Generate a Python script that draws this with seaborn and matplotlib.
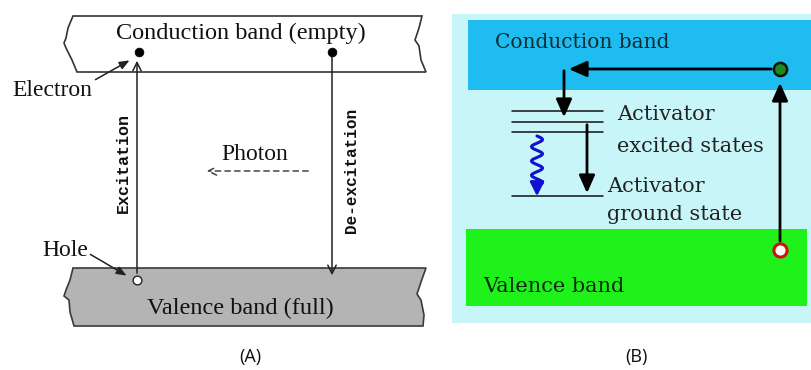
import numpy as np
import pandas as pd
import matplotlib
matplotlib.use("Agg")
import matplotlib.pyplot as plt
from matplotlib.patches import Polygon, Rectangle
import seaborn as sns

sns.set_theme(style="white")

# ---------------- data ----------------
panel_labels = ["(A)", "(B)"]
panel_label_x = [250, 636]

# Panel A
bandA_labels = ["Conduction band (empty)", "Valence band (full)"]
electron_x = [139, 332]
electron_y = [52, 52]
hole_x = [137]
hole_y = [280]
transition_labels = ["Excitation", "De-excitation"]

# Panel B
bandB_labels = ["Conduction band", "Valence band"]
excited_levels_y = [111, 122, 132]
ground_level_y = [196]
activator_texts = ["Activator", "excited states", "Activator", "ground state"]

# ---------------- figure ----------------
fig = plt.figure(figsize=(8.12, 3.70), dpi=100)
ax = fig.add_axes([0, 0, 1, 1])
ax.set_xlim(0, 812)
ax.set_ylim(370, 0)
ax.axis("off")

serif = "Liberation Serif"
mono = "Liberation Mono"
bserif = "DejaVu Serif"

# ---- Panel A bands ----
cond = [(73, 16), (422, 16), (419, 28), (415, 40), (419, 46), (421, 60), (426, 72),
        (77, 72), (72, 60), (66, 48), (64, 43), (66, 38), (68, 28)]
ax.add_patch(Polygon(cond, closed=True, facecolor="white", edgecolor="#333333", lw=1.2))
val = [(73, 268), (426, 268), (421, 282), (417, 294), (421, 300), (424, 315), (423, 326),
       (74, 326), (70, 312), (69, 300), (64, 296), (66, 290), (70, 280)]
ax.add_patch(Polygon(val, closed=True, facecolor="#b4b4b4", edgecolor="#3a3a3a", lw=1.2))

ax.text(241, 33, bandA_labels[0], ha="center", va="center", fontsize=17.5, family=serif, color="#111111")
ax.text(240, 308, bandA_labels[1], ha="center", va="center", fontsize=17.5, family=serif, color="#111111")

# transitions
ax.annotate("", xy=(137, 58), xytext=(137, 276),
            arrowprops=dict(arrowstyle="->,head_length=0.5,head_width=0.25", color="#222222", lw=1.1))
ax.annotate("", xy=(332, 278), xytext=(332, 52),
            arrowprops=dict(arrowstyle="->,head_length=0.5,head_width=0.25", color="#222222", lw=1.1))

sns.scatterplot(x=electron_x, y=electron_y, ax=ax, color="black", s=40, edgecolor="black", legend=False, zorder=5)
sns.scatterplot(x=hole_x, y=hole_y, ax=ax, color="white", s=40, edgecolor="#222222", linewidth=1, legend=False, zorder=5)

ax.text(123, 163, transition_labels[0], rotation=90, ha="center", va="center", fontsize=12,
        family=mono, fontweight="bold", color="#111111")
ax.text(352, 170, transition_labels[1], rotation=90, ha="center", va="center", fontsize=11.5,
        family=mono, fontweight="bold", color="#111111")

ax.text(255, 155, "Photon", ha="center", va="center", fontsize=17, family=serif, color="#111111")
ax.annotate("", xy=(204, 171), xytext=(311, 171),
            arrowprops=dict(arrowstyle="->,head_length=0.5,head_width=0.25", color="#333333", lw=1.0, ls=(0, (4, 3))))

ax.text(52, 90, "Electron", ha="center", va="center", fontsize=17, family=serif, color="#111111")
ax.annotate("", xy=(132, 59), xytext=(93, 81),
            arrowprops=dict(arrowstyle="-|>,head_length=0.5,head_width=0.2", color="#222222", lw=1.1))
ax.text(65, 250, "Hole", ha="center", va="center", fontsize=17, family=serif, color="#111111")
ax.annotate("", xy=(129, 277), xytext=(88, 253),
            arrowprops=dict(arrowstyle="-|>,head_length=0.5,head_width=0.2", color="#222222", lw=1.1))

# ---- Panel B ----
ax.add_patch(Rectangle((452, 14), 360, 309, facecolor="#c8f5f7", edgecolor="none"))
ax.add_patch(Rectangle((468, 20), 344, 70, facecolor="#1fbcf0", edgecolor="none"))
ax.add_patch(Rectangle((466, 229), 341, 77, facecolor="#1ff21a", edgecolor="none"))

ax.text(495, 43, bandB_labels[0], ha="left", va="center", fontsize=14.5, family=bserif, color="#0e2a33")
ax.text(483, 287, bandB_labels[1], ha="left", va="center", fontsize=15, family=bserif, color="#0b2a0b")

for yl in excited_levels_y + ground_level_y:
    sns.lineplot(x=[512, 603], y=[yl, yl], ax=ax, color="#111111", lw=1.1, legend=False)

ax.text(617, 115, activator_texts[0], ha="left", va="center", fontsize=15, family=bserif, color="#222222")
ax.text(617, 146, activator_texts[1], ha="left", va="center", fontsize=15, family=bserif, color="#222222")
ax.text(607, 186, activator_texts[2], ha="left", va="center", fontsize=15, family=bserif, color="#222222")
ax.text(607, 214, activator_texts[3], ha="left", va="center", fontsize=15, family=bserif, color="#222222")

big = dict(arrowstyle="-|>,head_length=0.9,head_width=0.4", color="black", lw=2.0)
ax.annotate("", xy=(566, 69), xytext=(774, 69), arrowprops=big)
ax.annotate("", xy=(564, 120), xytext=(564, 68), arrowprops=big)
ax.annotate("", xy=(587, 196), xytext=(587, 122), arrowprops=big)
ax.annotate("", xy=(780, 80), xytext=(780, 244), arrowprops=big)

# blue wiggle
wy = np.linspace(136, 186, 200)
wx = 537 + 5.5 * np.sin((wy - 136) / 50 * 3.5 * 2 * np.pi)
ax.plot(wx, wy, color="#1010d0", lw=2.2)
ax.annotate("", xy=(537, 199), xytext=(537, 184),
            arrowprops=dict(arrowstyle="-|>,head_length=0.7,head_width=0.35", color="#1010d0", lw=2))

sns.scatterplot(x=[780], y=[69], ax=ax, color="#1a8c1a", s=90, edgecolor="#111111", linewidth=1.8, legend=False, zorder=6)
sns.scatterplot(x=[780], y=[250], ax=ax, color="white", s=90, edgecolor="#d01010", linewidth=2.2, legend=False, zorder=6)

for lab, lx in zip(panel_labels, panel_label_x):
    ax.text(lx, 357, lab, ha="center", va="center", fontsize=13, family="Open Sans", color="#111111")

fig.savefig("out.png", dpi=100)
